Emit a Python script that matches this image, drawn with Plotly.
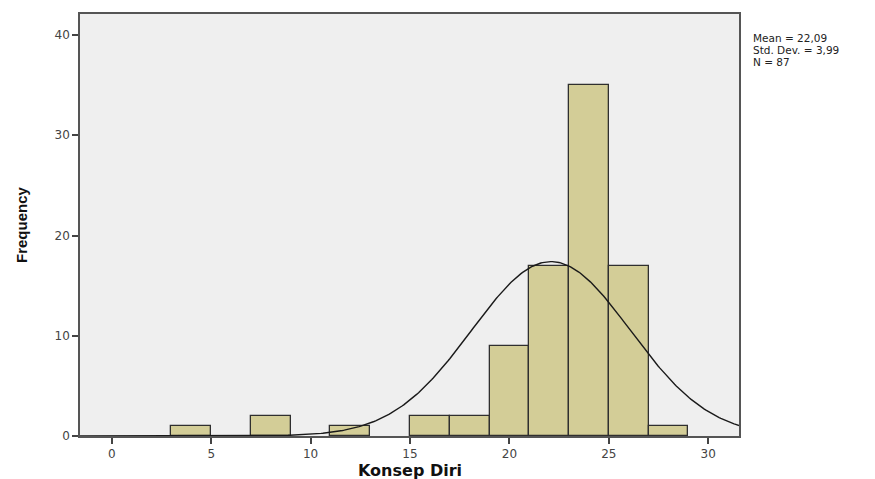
import numpy as np
import plotly.graph_objects as go

# Histogram bins (left edges) and counts
bin_left = [3, 7, 11, 15, 17, 19, 21, 23, 25, 27]
bin_width = 2
counts = [1, 2, 1, 2, 2, 9, 17, 35, 17, 1]

mean_val = 22.09
sd_val = 3.99
n_val = 87

x_ticks = [0, 5, 10, 15, 20, 25, 30]
y_ticks = [0, 10, 20, 30, 40]
stats_lines = ["Mean = 22,09", "Std. Dev. = 3,99", "N = 87"]

centers = [b + bin_width / 2 for b in bin_left]

xs = np.linspace(-1.6, 31.55, 400)
ys = n_val * bin_width / (sd_val * np.sqrt(2 * np.pi)) * np.exp(-0.5 * ((xs - mean_val) / sd_val) ** 2)

fig = go.Figure()
fig.add_trace(go.Bar(
    x=centers, y=counts, width=[bin_width] * len(counts),
    marker=dict(color="#d3cd97", line=dict(color="#2f2f2f", width=1.3)),
    showlegend=False, hoverinfo="skip"))
fig.add_trace(go.Scatter(
    x=xs, y=ys, mode="lines", line=dict(color="#1a1a1a", width=1.4),
    showlegend=False, hoverinfo="skip"))

# page is rendered with an 8px body margin; compensate
W, H = 867, 471
L, T, PW, PH = 72, 4, 659, 424

fig.update_layout(
    width=W, height=H,
    margin=dict(l=L, r=W - L - PW, t=T, b=H - T - PH),
    paper_bgcolor="white", plot_bgcolor="#efefef",
    bargap=0,
    font=dict(family="DejaVu Sans, sans-serif", color="#333333", size=12),
    xaxis=dict(range=[-1.6, 31.55], tickvals=x_ticks, ticks="outside", ticklen=6,
               tickcolor="#444444", tickwidth=1.5, showgrid=False, zeroline=False,
               showline=True, linecolor="#555555", linewidth=1.5, mirror=True,
               tickfont=dict(size=12, color="#444444")),
    yaxis=dict(range=[0, 42.1], tickvals=y_ticks, ticks="outside", ticklen=6,
               tickcolor="#444444", tickwidth=1.5, showgrid=False, zeroline=False,
               showline=True, linecolor="#555555", linewidth=1.5, mirror=True,
               tickfont=dict(size=12, color="#444444")),
)

fig.add_annotation(xref="paper", yref="paper", x=0.5, y=-(471 - 8 - 436 + 8 - T - 0) / PH if False else -35 / PH,
                   yanchor="middle",
                   text="<b>Konsep Diri</b>", showarrow=False,
                   font=dict(size=16, color="#111111", family="DejaVu Sans, sans-serif"))
fig.add_annotation(xref="paper", yref="paper", x=-59 / PW, y=0.5, textangle=-90,
                   xanchor="center", yanchor="middle",
                   text="<b>Frequency</b>", showarrow=False,
                   font=dict(size=15, color="#111111", family="Liberation Sans Narrow, Arial Narrow, Liberation Sans, sans-serif"))
for i, line in enumerate(stats_lines):
    y_px = 28 + i * 12.2
    fig.add_annotation(xref="paper", yref="paper", x=(743 - L) / PW,
                       y=1 - (y_px - T) / PH, xanchor="left", yanchor="middle",
                       showarrow=False, text=line,
                       font=dict(size=10.5, color="#222222", family="DejaVu Sans, sans-serif"))

fig.write_html("out.html")
